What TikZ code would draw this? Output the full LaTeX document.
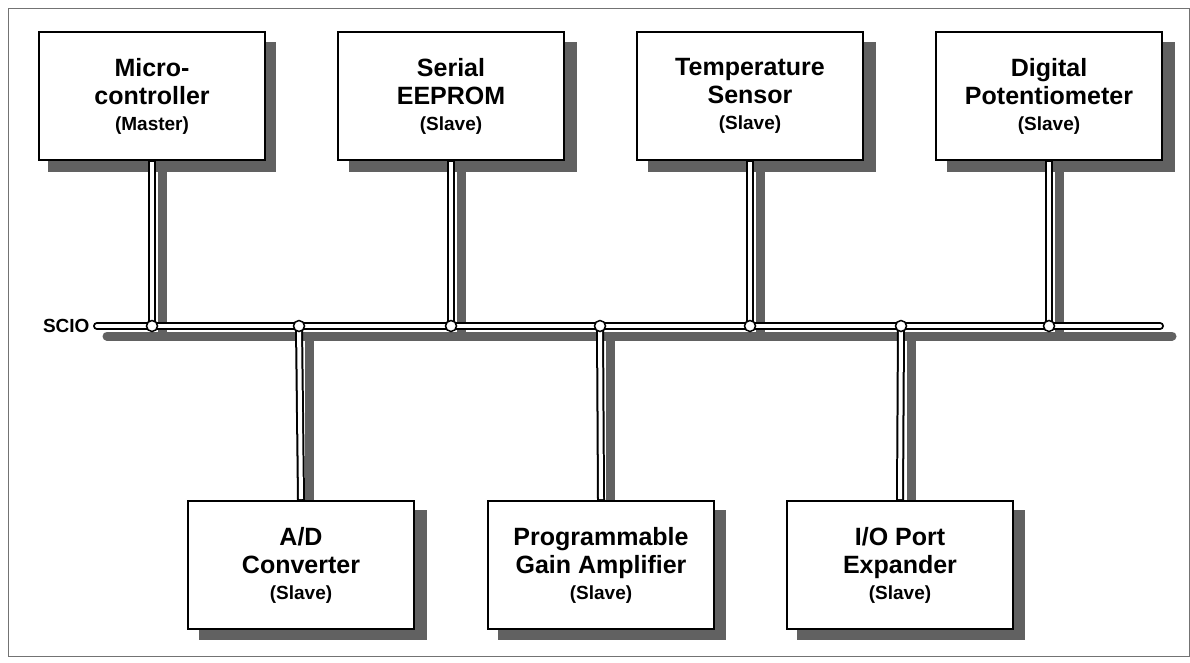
\documentclass[tikz,border=0pt]{standalone}
\usepackage{fontspec}
\setmainfont{Liberation Sans}
\newcommand{\slv}{\\[-4pt]{\fontsize{19}{24}\selectfont(Slave)}}
\begin{document}
\begin{tikzpicture}[x=1pt,y=-1pt,
  box/.style={draw=black,line width=2pt,fill=white,minimum width=226pt,minimum height=128pt,inner sep=0pt,align=center,font=\bfseries\fontsize{25}{30}\selectfont},
  sh/.style={fill=black!62,draw=none},
  shl/.style={draw=black!62,line width=9pt},
  wo/.style={draw=black,line width=8pt},
  wi/.style={draw=white,line width=4pt},
  jdot/.style={circle,draw=black,line width=1.5pt,fill=white,minimum size=11pt,inner sep=0pt}]
\useasboundingbox (0,0) rectangle (1190,662);
\draw[black!55,line width=1pt] (8,8) rectangle (1189,656);
% coordinates
\coordinate (bl) at (97,326); \coordinate (br) at (1160,326);
\foreach \n/\x in {t1/152,t2/451,t3/750,t4/1049,b1/299,b2/600,b3/901}{\coordinate (\n) at (\x,326);}
% shadows
\foreach \x/\y in {38/32,339/32,638/32,937/32,189/500,488/500,787/500}{\fill[sh] (\x+10,\y+10) rectangle +(228,130);}
\draw[shl,line cap=round] (107,336) -- (1172,336);
\foreach \x in {152,451,750,1049}{\draw[shl] (\x+10,150) -- (\x+10,336);}
\foreach \x in {299,600,901}{\draw[shl] (\x+10,336) -- (\x+10,510);}
% nodes
\node[box] (mc) at (152,96) {Micro-\\[-2pt]controller\\[-4pt]{\fontsize{19}{24}\selectfont(Master)}};
\node[box] (ee) at (451,96) {Serial\\[-2pt]EEPROM\slv};
\node[box] (ts) at (750,96) {Temperature\\[-2pt]Sensor\slv};
\node[box] (dp) at (1049,96) {Digital\\[-2pt]Potentiometer\slv};
\node[box] (ad) at (301,565) {A/D\\[-2pt]Converter\slv};
\node[box] (pg) at (601,565) {Programmable\\[-2pt]Gain Amplifier\slv};
\node[box] (io) at (900,565) {I/O Port\\[-2pt]Expander\slv};
\node[anchor=east,font=\bfseries\fontsize{19}{22}\selectfont] (scio) at (93,326) {SCIO};
% bus
\draw[wo,line cap=round] (bl) -- (br);
\foreach \a/\b in {mc/t1,ee/t2,ts/t3,dp/t4}{\draw[wo] (\a.south) -- (\b);}
\foreach \a/\b in {ad/b1,pg/b2,io/b3}{\draw[wo] (\b) -- (\a.north);}
\draw[wi,line cap=round] (bl) -- (br);
\foreach \a/\b in {mc/t1,ee/t2,ts/t3,dp/t4}{\draw[wi] ([yshift=-1pt]\a.south) -- (\b);}
\foreach \a/\b in {ad/b1,pg/b2,io/b3}{\draw[wi] (\b) -- ([yshift=1pt]\a.north);}
\foreach \n in {t1,t2,t3,t4,b1,b2,b3}{\node[jdot] at (\n) {};}
\end{tikzpicture}
\end{document}
